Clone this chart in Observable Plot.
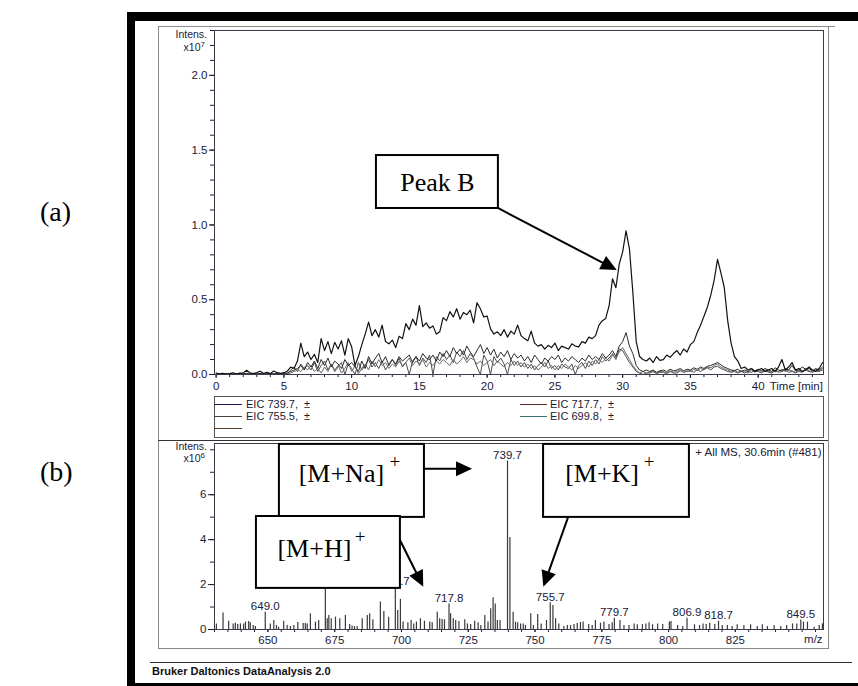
<!DOCTYPE html>
<html><head><meta charset="utf-8">
<script src="https://cdn.jsdelivr.net/npm/d3@7"></script>
<script src="https://cdn.jsdelivr.net/npm/@observablehq/plot@0.6"></script>
<style>
body{margin:0;background:#fff;}
#page{position:relative;width:858px;height:686px;overflow:hidden;font-family:"Liberation Sans",Arial,sans-serif;color:#1b2036;}
.abs{position:absolute;}
.lbl{position:absolute;font-size:10.5px;line-height:12px;white-space:pre;}
.serif{position:absolute;font-family:"Liberation Serif","Times New Roman",serif;font-size:28px;line-height:30px;color:#000;}
svg{position:absolute;}
</style></head><body><div id="page"></div>
<script>
// ---------------- DATA ----------------
const seriesNames = ["EIC 739.7,  ±", "EIC 755.5,  ±", "EIC 717.7,  ±", "EIC 699.8,  ±"];
const legendColors = ["#1d1d5e", "#4e443c", "#5a2a2a", "#3d7373"];
const traceColors = ["#111111", "#2b2b2b", "#6b6b6b", "#4d4d4d"];
const timeStep = 0.25; // min, sampling of the traces below (values in x10^7)

const eic739 = [
.010,.004,.008,.002, .006,.012,.003,.009, .011,.028,.012,.006, .013,.022,.007,.015,
.006,.024,.012,.008, .012,.022,.050,.040, .090,.210,.120,.150, .100,.135,.080,.240,
.160,.220,.140,.215, .170,.225,.130,.240, .185,.060,.120,.200, .270,.350,.260,.300,
.250,.330,.220,.205, .230,.180,.255,.240, .340,.300,.370,.330, .460,.320,.345,.310,
.325,.270,.285,.380, .360,.420,.385,.440, .370,.415,.400,.430, .345,.480,.440,.385,
.390,.305,.270,.285, .260,.300,.250,.290, .270,.330,.260,.240, .225,.290,.210,.190,
.200,.170,.195,.180, .210,.160,.190,.180, .170,.205,.190,.185, .220,.210,.250,.240,
.260,.330,.360,.375, .460,.640,.580,.740, .820,.960,.840,.550, .220,.120,.100,.090,
.110,.080,.120,.095, .100,.130,.115,.140, .160,.130,.170,.150, .200,.220,.280,.330,
.390,.450,.530,.630, .770,.680,.580,.360, .210,.120,.090,.040, .050,.030,.040,.020,
.030,.040,.020,.030, .040,.020,.050,.100, .030,.050,.080,.030, .040,.020,.030,.050,
.030,.020,.040,.080];
const eic755 = [
.003,.006,.002,.005, .004,.002,.006,.003, .005,.008,.003,.006, .004,.007,.003,.005,
.006,.003,.008,.004, .005,.010,.020,.030, .040,.060,.030,.080, .050,.090,.040,.100,
.060,.110,.050,.090, .070,.040,.100,.060, .080,.050,.020,.090, .040,.120,.070,.110,
.140,.080,.120,.060, .100,.070,.120,.090, .110,.130,.080,.120, .090,.140,.110,.100,
.130,.090,.150,.120, .160,.120,.180,.140, .170,.130,.190,.150, .120,.160,.200,.140,
.180,.130,.170,.110, .150,.120,.160,.100, .140,.110,.130,.090, .120,.080,.130,.100,
.070,.110,.090,.120, .100,.130,.080,.110, .090,.120,.100,.080, .110,.090,.130,.100,
.120,.100,.140,.110, .130,.160,.120,.190, .220,.280,.190,.140, .060,.030,.020,.030,
.020,.030,.015,.025, .030,.020,.035,.025, .030,.040,.025,.035, .030,.045,.035,.050,
.040,.055,.060,.070, .080,.065,.050,.040, .030,.025,.035,.020, .030,.020,.040,.025,
.035,.025,.040,.030, .020,.045,.030,.025, .040,.030,.060,.025, .030,.050,.035,.040,
.025,.040,.030,.050];
const eic717 = [
.002,.004,.001,.003, .003,.001,.004,.002, .002,.005,.002,.003, .004,.002,.005,.001,
.003,.005,.002,.004, .002,.003,.010,.020, .030,.020,.050,.030, .060,.020,.040,.010,
.050,.020,.070,.030, .060,.010,.040,.080, .020,.060,.005,.040, .070,.030,.090,.050,
.100,.060,.080,.040, .070,.050,.090,.060, .080,.110,.060,.090, .070,.100,.050,.080,
.060,.090,.070,.100, .080,.060,.100,.070, .090,.120,.080,.110, .100,.070,.090,.060,
.080,.100,.060,.090, .070,.050,.080,.060, .090,.060,.080,.050, .070,.040,.060,.030,
.050,.080,.040,.060, .030,.060,.040,.070, .050,.030,.060,.040, .060,.080,.050,.090,
.070,.100,.080,.110, .090,.130,.110,.150, .180,.140,.100,.060, .030,.010,.020,.010,
.015,.025,.010,.020, .020,.010,.025,.015, .020,.030,.015,.025, .020,.035,.025,.040,
.030,.050,.045,.060, .070,.050,.040,.030, .020,.030,.015,.025, .020,.010,.030,.015,
.025,.015,.030,.020, .015,.030,.020,.035, .020,.030,.025,.015, .030,.020,.040,.025,
.020,.035,.025,.040];
const eic699 = [
.001,.002,.004,.001, .002,.004,.001,.003, .004,.001,.003,.002, .001,.003,.002,.004,
.002,.004,.001,.003, .001,.005,.030,.050, .020,.070,.040,.060, .030,.080,.020,.060,
.090,.030,.070,.020, .050,.080,.000,.070, .040,.000,.080,.030, .060,.100,.050,.080,
.040,.090,.030,.070, .100,.060,.110,.050, .080,.000,.090,.120, .060,.110,.080,.130,
.000,.120,.090,.140, .100,.130,.080,.150, .120,.160,.100,.140, .110,.050,.000,.130,
.090,.000,.120,.080, .110,.070,.000,.100, .060,.090,.050,.080, .040,.070,.030,.060,
.080,.050,.090,.040, .060,.030,.070,.050, .040,.070,.000,.060, .080,.040,.090,.060,
.100,.070,.120,.090, .110,.140,.100,.170, .160,.120,.080,.050, .020,.010,.000,.010,
.010,.020,.005,.015, .015,.005,.020,.010, .010,.025,.015,.020, .025,.015,.030,.020,
.035,.045,.030,.050, .055,.040,.030,.020, .015,.020,.010,.020, .010,.020,.015,.025,
.020,.010,.025,.015, .010,.025,.015,.020, .030,.015,.020,.010, .020,.015,.030,.020,
.015,.025,.020,.030];

// mass spectrum at 30.6 min (intensity x10^6)
const specMz = [630.7,633.2,635.3,637.0,637.8,638.7,639.7,640.9,641.6,642.8,643.4,644.5,645.3,649.0,650.9,652.2,653.2,654.0,655.9,657.2,658.4,659.7,661.2,663.2,664.0,664.7,665.9,667.8,669.0,671.5,672.2,672.8,673.7,675.3,676.9,679.0,680.6,681.5,682.4,683.4,685.3,687.2,688.1,689.3,692.1,693.4,695.2,697.7,698.6,699.6,700.6,702.4,703.6,704.6,705.6,707.1,708.6,710.6,711.5,713.4,714.3,715.2,716.1,717.8,718.4,719.4,720.3,721.5,723.7,724.7,725.9,727.4,728.7,729.7,731.2,732.4,733.4,734.3,735.1,735.9,736.9,739.7,740.6,741.8,742.7,743.5,744.6,745.6,746.4,748.4,749.4,751.0,752.3,754.3,755.7,756.7,757.7,758.9,760.8,762.1,763.3,764.6,765.8,767.0,768.0,770.1,771.4,772.6,774.5,775.8,777.7,778.9,779.7,781.8,783.3,785.2,787.1,788.3,790.2,791.5,792.7,794.0,795.9,797.8,800.3,800.9,803.4,805.3,806.9,809.7,811.6,812.9,814.1,815.4,817.3,818.7,820.1,822.0,823.8,825.7,828.2,830.7,833.2,835.1,837.0,839.5,842.0,844.2,846.4,848.0,849.5,850.5,852.0,854.5,856.4,857.6];
const specInt = [.25,.73,.37,.25,.28,.22,.25,.25,.33,.36,.30,.18,.13,.77,.25,.40,.18,.10,.37,.18,.13,.18,.31,.27,.27,.25,.70,.33,.40,2.60,.48,.62,.48,.55,.48,.62,.22,.16,.13,.13,.48,.62,.70,.43,1.22,.80,.55,1.90,.85,1.34,.33,.30,.40,.25,.33,.48,.37,.33,.30,.77,.48,.45,.43,1.14,.70,.48,.40,.36,.43,.25,.22,.37,.30,.18,.62,.33,.92,1.41,1.14,.40,.40,7.50,4.10,.77,.33,.30,.25,.25,.18,.70,.18,.67,.25,.40,1.19,1.07,.48,.25,.13,.18,.18,.22,.27,.31,.33,.22,.18,.40,.28,.33,.22,.30,.50,.40,.18,.18,.25,.21,.22,.25,.30,.21,.25,.22,.33,.36,.18,.13,.50,.21,.18,.25,.22,.28,.22,.37,.18,.18,.13,.21,.18,.21,.13,.21,.13,.18,.13,.18,.25,.25,.42,.33,.33,.10,.18,.25];
const labelMz = [649.0, 697.7, 717.8, 739.7, 755.7, 779.7, 806.9, 818.7, 849.5];

// tick labels
const chromYTicks = [0, 0.5, 1.0, 1.5, 2.0];
const chromXTicks = [0, 5, 10, 15, 20, 25, 30, 35, 40];
const specXTicks = [650, 675, 700, 725, 750, 775, 800, 825];
const specYTicks = [0, 2, 4, 6];

// annotations (in data units of each panel)
const chromBoxes = [{x1: 11.83, x2: 20.83, y1: 1.110, y2: 1.464}];
const chromTexts = [{x: 16.33, y: 1.283, text: "Peak B", size: 26}];
const chromArrows = [{x1: 20.83, y1: 1.11, x2: 29.6, y2: 0.695}];
const specBoxes = [
  {x1: 654.3, x2: 708.6, y1: 4.99, y2: 8.24},
  {x1: 645.7, x2: 699.6, y1: 1.83, y2: 5.03},
  {x1: 753.2, x2: 807.8, y1: 4.99, y2: 8.24}
];
const specTexts = [
  {x: 677.5, y: 6.95, text: "[M+Na]", size: 26}, {x: 697.5, y: 7.44, text: "+", size: 19},
  {x: 667.4, y: 3.61, text: "[M+H]", size: 26},  {x: 684.5, y: 4.10, text: "+", size: 19},
  {x: 775.1, y: 6.95, text: "[M+K]", size: 26},  {x: 792.7, y: 7.44, text: "+", size: 19}
];
const specArrows = [
  {x1: 708.6, y1: 7.13, x2: 726.6, y2: 7.13},
  {x1: 699.6, y1: 3.96, x2: 708.35, y2: 1.88},
  {x1: 762.6, y1: 4.99, x2: 753.3, y2: 1.88}
];

// ---------------- BUILD ----------------
const page = document.getElementById("page");
const font = "Liberation Sans, Arial, sans-serif";
const serif = "Liberation Serif, Times New Roman, serif";
const ink = "#1b2036";

const allSeries = [eic739, eic755, eic717, eic699];
const traceMarks = [];
for (let s = allSeries.length - 1; s >= 0; s--) {
  const rows = allSeries[s].map((v, i) => ({t: i * timeStep, v}));
  traceMarks.push(Plot.line(rows, {x: "t", y: "v", stroke: traceColors[s], strokeWidth: s === 0 ? 1.2 : 1.0}));
}

const chrom = Plot.plot({
  width: 670, height: 368,
  marginLeft: 56, marginRight: 5, marginTop: 4, marginBottom: 20,
  style: {fontFamily: font, fontSize: "11.5px", color: ink, background: "none", overflow: "visible"},
  x: {domain: [-0.12, 44.82]},
  y: {domain: [0, 2.3]},
  marks: [
    Plot.axisY({ticks: d3.range(0, 2.31, 0.1), tickSize: 4, tickFormat: () => "", label: null}),
    Plot.axisY({ticks: chromYTicks, tickSize: 5, tickPadding: 2, tickFormat: d => d.toFixed(1), label: null}),
    Plot.axisX({ticks: d3.range(0, 45, 1), tickSize: 3, tickFormat: () => "", label: null}),
    Plot.axisX({ticks: chromXTicks, tickSize: 4, tickPadding: 3, label: null}),
    ...traceMarks,
    Plot.frame({stroke: "#3a3a48", strokeWidth: 1}),
    Plot.text([{x: 40.85, y: 0, s: "Time [min]"}], {x: "x", y: "y", text: "s", textAnchor: "start", dy: 12, fill: ink}),
    Plot.rect(chromBoxes, {x1: "x1", x2: "x2", y1: "y1", y2: "y2", fill: "white", stroke: "#000", strokeWidth: 2}),
    Plot.text(chromTexts, {x: "x", y: "y", text: "text", fontSize: d => d.size, fontFamily: serif, fill: "#000"})
  ]
});
chrom.style.left = "158px"; chrom.style.top = "26px";

const specRows = specMz.map((m, i) => ({mz: m, int: specInt[i]}));
const labelRows = labelMz.map(m => specRows.find(r => r.mz === m));

const spec = Plot.plot({
  width: 670, height: 207,
  marginLeft: 56, marginRight: 5, marginTop: 2, marginBottom: 19,
  style: {fontFamily: font, fontSize: "11.5px", color: ink, background: "none", overflow: "visible"},
  x: {domain: [630, 858]},
  y: {domain: [0, 8.28]},
  marks: [
    Plot.axisY({ticks: d3.range(0, 9, 1), tickSize: 4, tickFormat: () => "", label: null}),
    Plot.axisY({ticks: specYTicks, tickSize: 6, tickPadding: 2, label: null}),
    Plot.axisX({ticks: d3.range(630, 858, 5), tickSize: 3, tickFormat: () => "", label: null}),
    Plot.axisX({ticks: specXTicks, tickSize: 3, tickPadding: 3, label: null}),
    Plot.ruleX(specRows, {x: "mz", y1: 0, y2: "int", stroke: "#3a3a3a", strokeWidth: 1.2}),
    Plot.text(labelRows, {x: "mz", y: "int", text: d => d.mz.toFixed(1), lineAnchor: "bottom", dy: -2, fill: ink}),
    Plot.frame({stroke: "#3a3a48", strokeWidth: 1}),
    Plot.text(["+ All MS, 30.6min (#481)"], {frameAnchor: "top-right", textAnchor: "end", lineAnchor: "middle", dx: -2, dy: 9, fill: ink}),
    Plot.text([{x: 854.2, y: 0, s: "m/z"}], {x: "x", y: "y", text: "s", dy: 10, fill: ink}),
    Plot.rect(specBoxes, {x1: "x1", x2: "x2", y1: "y1", y2: "y2", fill: "white", stroke: "#000", strokeWidth: 2}),
    Plot.text(specTexts, {x: "x", y: "y", text: "text", fontSize: d => d.size, fontFamily: serif, fill: "#000"})
  ]
});
spec.style.left = "158px"; spec.style.top = "441px";

function drawArrows(plot, arrows) {
  const sx = plot.scale("x"), sy = plot.scale("y");
  const g = d3.select(plot).append("g");
  for (const a of arrows) {
    const x1 = sx.apply(a.x1), y1 = sy.apply(a.y1), x2 = sx.apply(a.x2), y2 = sy.apply(a.y2);
    const dx = x2 - x1, dy = y2 - y1, len = Math.hypot(dx, dy), ux = dx / len, uy = dy / len;
    const L = 16, W = 7.5;
    const bx = x2 - ux * L, by = y2 - uy * L;
    g.append("line").attr("x1", x1).attr("y1", y1).attr("x2", bx + ux * 2).attr("y2", by + uy * 2)
      .attr("stroke", "#000").attr("stroke-width", 2);
    g.append("polygon").attr("fill", "#000")
      .attr("points", [[x2, y2], [bx - uy * W, by + ux * W], [bx + uy * W, by - ux * W]].map(p => p.join(",")).join(" "));
  }
}

page.appendChild(chrom);
page.appendChild(spec);
drawArrows(chrom, chromArrows);
drawArrows(spec, specArrows);

function div(cls, style, html) {
  const d = document.createElement("div");
  d.className = cls; d.setAttribute("style", style);
  if (html != null) d.innerHTML = html;
  page.appendChild(d);
  return d;
}
// outer black frame
div("abs", "left:127px;top:12px;width:760px;height:662px;border-top:9px solid #000;border-left:8px solid #000;border-bottom:3px solid #000;");
// inner gray frame
div("abs", "left:158px;top:26px;width:669px;height:621px;border:1.5px solid #8a8a8a;");
div("abs", "left:827px;top:26px;width:8px;height:0;border-top:1.5px solid #8a8a8a;");
// separator between panels
div("abs", "left:158px;top:439.5px;width:670px;height:0;border-top:1.6px solid #333;");
// legend box
div("abs", "left:214px;top:396px;width:608px;height:40px;border:1.2px solid #555;");
const legendPos = [[214, 404, 28, 246], [214, 416, 28, 246], [520, 404, 27, 550], [520, 416, 27, 550]];
seriesNames.forEach((name, i) => {
  const [lx, ly, lw, tx] = legendPos[i];
  div("abs", `left:${lx}px;top:${ly}px;width:${lw}px;height:0;border-top:1.3px solid ${legendColors[i]};`);
  div("lbl", `left:${tx}px;top:${ly - 6}px;font-size:11px;`, name);
});
div("abs", "left:214px;top:428px;width:28px;height:0;border-top:1.3px solid #5a3a28;");
// y-axis captions
div("lbl", "left:150px;width:57px;text-align:right;top:27.5px;", "Intens.");
div("lbl", "left:150px;width:55px;text-align:right;top:41px;", "x10<sup style='font-size:8px;line-height:0'>7</sup>");
div("lbl", "left:150px;width:57px;text-align:right;top:439.5px;", "Intens.");
div("lbl", "left:150px;width:55px;text-align:right;top:452px;", "x10<sup style='font-size:8px;line-height:0'>6</sup>");
// panel letters
div("serif", "left:40px;top:197px;", "(a)");
div("serif", "left:40px;top:457px;", "(b)");
// footer
div("abs", "left:150px;top:661.5px;width:702px;height:0;border-top:1.5px solid #2a2a35;");
div("lbl", "left:152px;top:665px;font-size:11px;font-weight:bold;color:#111;", "Bruker Daltonics DataAnalysis 2.0");
</script></body></html>
